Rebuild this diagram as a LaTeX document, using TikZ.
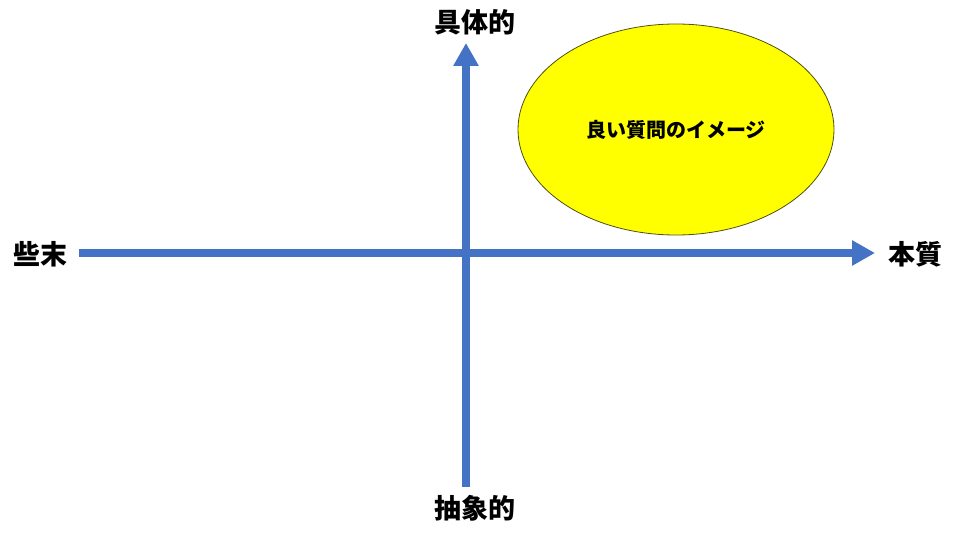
\documentclass[tikz,border=0pt]{standalone}
\usepackage{fontspec}
\newfontfamily\jpfont{Noto Sans CJK JP}
\usetikzlibrary{arrows.meta,shapes.geometric}
\definecolor{axisblue}{RGB}{68,114,196}
\definecolor{rimolive}{RGB}{80,80,20}
\definecolor{goodyellow}{RGB}{255,255,0}

\begin{document}
\begin{tikzpicture}[x=1pt,y=-1pt,
	axis/.style={axisblue, line width=8pt, -{Triangle[width=24pt,length=23pt]}},
	lbl/.style={font=\jpfont\bfseries\fontsize{27}{27}\selectfont, inner sep=0pt}]
	\useasboundingbox (0,0) rectangle (961,537);

	\coordinate (sL) at (79,253);
	\coordinate (sR) at (875,253);
	\coordinate (sB) at (466,487);
	\coordinate (sT) at (466,43);

	\draw [axis] (sL) -- (sR);
	\draw [axis] (sB) -- (sT);

	\node (gutai)   [lbl] at (475,22)  {具体的};
	\node (chusho)  [lbl] at (475,508) {抽象的};
	\node (samatsu) [lbl] at (40,254)  {些末};
	\node (honshitsu) [lbl] at (915,254) {本質};

	\node (good) [ellipse, draw=rimolive, line width=0.8pt, fill=goodyellow, inner sep=0pt,
		minimum width=316pt, minimum height=211pt,
		font=\jpfont\bfseries\fontsize{20}{20}\selectfont] at (676,129.5) {良い質問のイメージ};

\end{tikzpicture}
\end{document}
